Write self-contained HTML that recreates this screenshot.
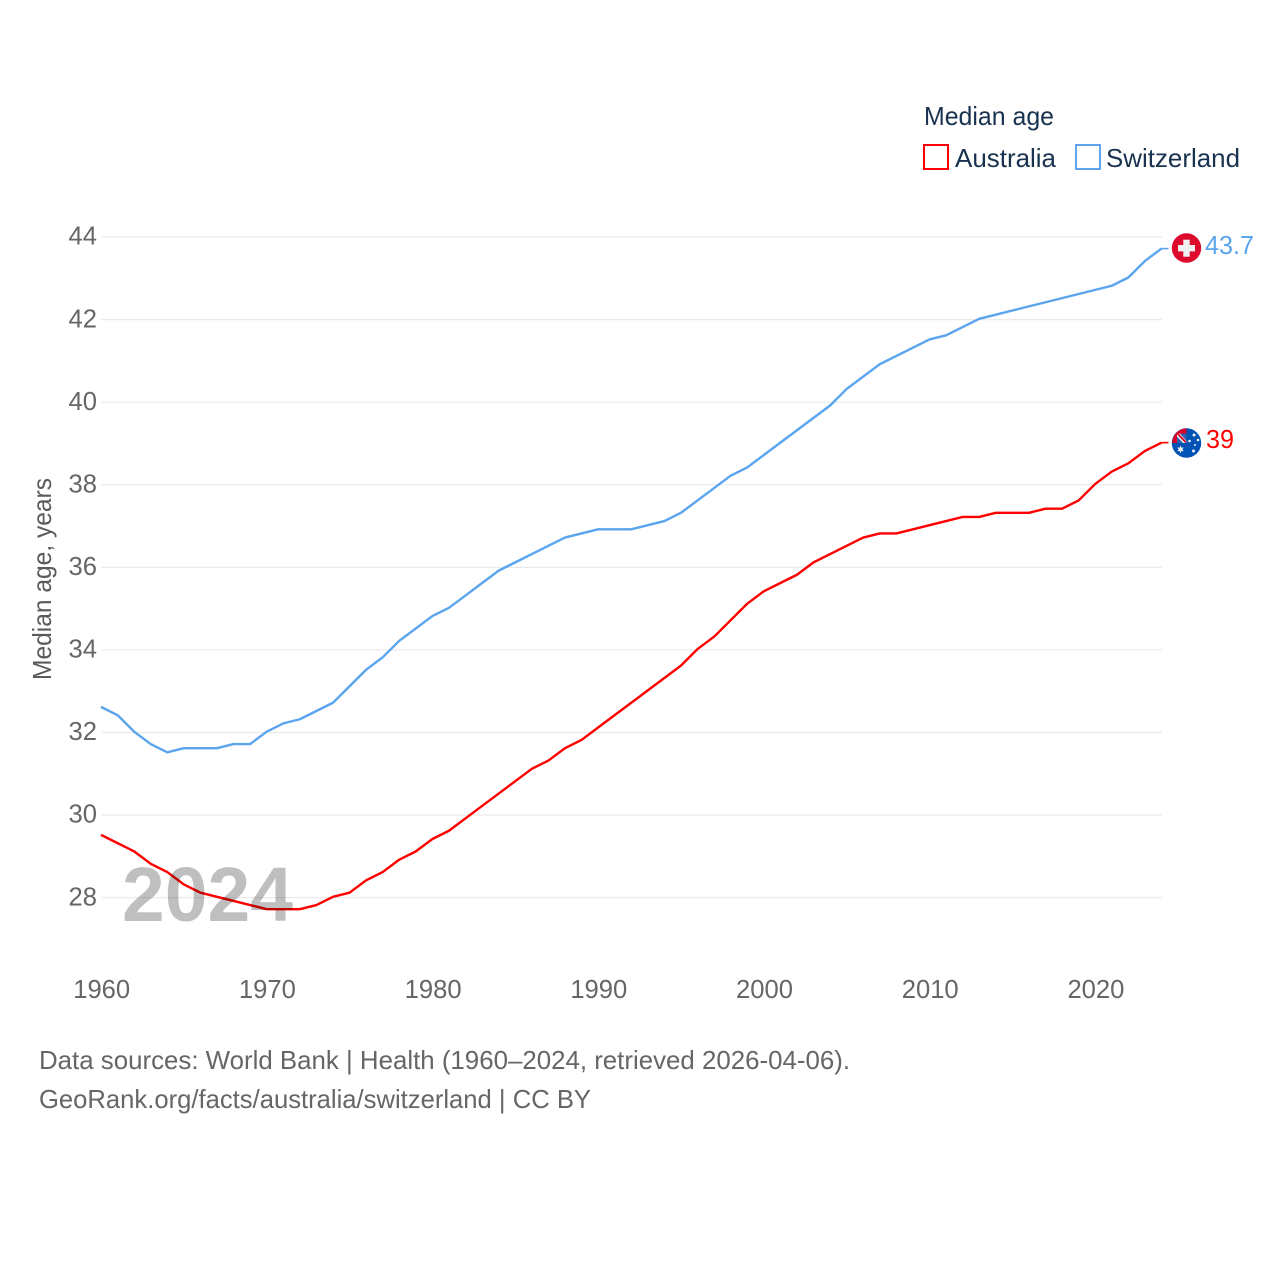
<!DOCTYPE html>
<html lang="en">
<head>
<meta charset="utf-8">
<title>Median age: Australia and Switzerland</title>
<style>
html,body{margin:0;padding:0;background:#fff;}
svg{display:block;font-family:"Liberation Sans",sans-serif;}
</style>
</head>
<body>
<svg id="chart" width="1280" height="1280" viewBox="0 0 1280 1280" xmlns="http://www.w3.org/2000/svg">
  <g id="grid"></g>
  <g id="yticks"></g>
  <g id="xticks"></g>
  <text transform="translate(51,579) rotate(-90)" text-anchor="middle" font-size="25.6" fill="#5b5b5b" textLength="202" lengthAdjust="spacingAndGlyphs">Median age, years</text>
  <g id="series" transform="translate(-0.5,-0.8)"></g>
  <text x="122" y="921" font-size="77" font-weight="bold" fill="#000" fill-opacity="0.25" textLength="171" lengthAdjust="spacingAndGlyphs">2024</text>

  <text x="924" y="125" font-size="26" fill="#18324f" textLength="130" lengthAdjust="spacingAndGlyphs">Median age</text>
  <rect x="924" y="145" width="24" height="24" fill="none" stroke="#ff0000" stroke-width="2"/>
  <text x="955" y="167" font-size="26" fill="#18324f" textLength="101" lengthAdjust="spacingAndGlyphs">Australia</text>
  <rect x="1076" y="145" width="24" height="24" fill="none" stroke="#5ba4ee" stroke-width="2"/>
  <text x="1106" y="167" font-size="26" fill="#18324f" textLength="134" lengthAdjust="spacingAndGlyphs">Switzerland</text>

  <g id="flag-ch">
    <circle cx="1186.5" cy="248" r="14.7" fill="#dc0a2d"/>
    <rect x="1178" y="245" width="17" height="6.4" fill="#f0f0f0"/>
    <rect x="1183.3" y="239.7" width="6.4" height="17" fill="#f0f0f0"/>
  </g>
  <g id="flag-au">
    <circle cx="1186.5" cy="443" r="14.7" fill="#0052b4"/>
    <path d="M1172.2 443 A14.7 14.7 0 0 1 1186.5 428.3 V443 Z" fill="#d80027"/>
    <rect x="1177" y="433.5" width="9.5" height="9.5" fill="#f0f0f0"/>
    <path d="M1180 433.5 H1186.5 V441 Z" fill="#2f5fae"/>
    <path d="M1177 436.5 L1183 443 H1177 Z" fill="#2f5fae"/>
    <path d="M1177.5 433.5 L1186 442.5" stroke="#d80027" stroke-width="1.8" fill="none"/>
    <polygon points="1180.5,445.5 1181.4,447.7 1183.8,447.4 1182.4,449.3 1183.8,451.3 1181.4,451 1180.5,453.2 1179.6,451 1177.2,451.3 1178.6,449.3 1177.2,447.4 1179.6,447.7" fill="#f0f0f0"/>
    <circle cx="1194" cy="435" r="1.5" fill="#f0f0f0"/>
    <circle cx="1189.5" cy="441" r="1.3" fill="#f0f0f0"/>
    <circle cx="1198" cy="440" r="1.3" fill="#f0f0f0"/>
    <circle cx="1195" cy="445" r="1" fill="#f0f0f0"/>
    <circle cx="1193.5" cy="451" r="1.5" fill="#f0f0f0"/>
  </g>
  <text id="end-au" x="1206" y="448" font-size="26" fill="#ff0000" textLength="28" lengthAdjust="spacingAndGlyphs"></text>
  <text id="end-ch" x="1205" y="254" font-size="26" fill="#5ba4ee" textLength="49" lengthAdjust="spacingAndGlyphs"></text>

  <text x="39" y="1069" font-size="26" fill="#666" textLength="811" lengthAdjust="spacingAndGlyphs">Data sources: World Bank | Health (1960–2024, retrieved 2026-04-06).</text>
  <text x="39" y="1108" font-size="26" fill="#666" textLength="552" lengthAdjust="spacingAndGlyphs">GeoRank.org/facts/australia/switzerland | CC BY</text>
</svg>
<script>
const years = [1960,1961,1962,1963,1964,1965,1966,1967,1968,1969,1970,1971,1972,1973,1974,1975,1976,1977,1978,1979,1980,1981,1982,1983,1984,1985,1986,1987,1988,1989,1990,1991,1992,1993,1994,1995,1996,1997,1998,1999,2000,2001,2002,2003,2004,2005,2006,2007,2008,2009,2010,2011,2012,2013,2014,2015,2016,2017,2018,2019,2020,2021,2022,2023,2024];
const australia = [29.5,29.3,29.1,28.8,28.6,28.3,28.1,28.0,27.9,27.8,27.7,27.7,27.7,27.8,28.0,28.1,28.4,28.6,28.9,29.1,29.4,29.6,29.9,30.2,30.5,30.8,31.1,31.3,31.6,31.8,32.1,32.4,32.7,33.0,33.3,33.6,34.0,34.3,34.7,35.1,35.4,35.6,35.8,36.1,36.3,36.5,36.7,36.8,36.8,36.9,37.0,37.1,37.2,37.2,37.3,37.3,37.3,37.4,37.4,37.6,38.0,38.3,38.5,38.8,39.0];
const switzerland = [32.6,32.4,32.0,31.7,31.5,31.6,31.6,31.6,31.7,31.7,32.0,32.2,32.3,32.5,32.7,33.1,33.5,33.8,34.2,34.5,34.8,35.0,35.3,35.6,35.9,36.1,36.3,36.5,36.7,36.8,36.9,36.9,36.9,37.0,37.1,37.3,37.6,37.9,38.2,38.4,38.7,39.0,39.3,39.6,39.9,40.3,40.6,40.9,41.1,41.3,41.5,41.6,41.8,42.0,42.1,42.2,42.3,42.4,42.5,42.6,42.7,42.8,43.0,43.4,43.7];
const yTicks = [28,30,32,34,36,38,40,42,44];
const xTicks = [1960,1970,1980,1990,2000,2010,2020];
const endLabelAustralia = "39";
const endLabelSwitzerland = "43.7";

const NS = "http://www.w3.org/2000/svg";
const plot = { left: 101.5, right: 1162, y28: 897.6, y44: 237 };
function xScale(v) { return plot.left + (v - 1960) * (plot.right - plot.left) / 64; }
function yScale(v) { return plot.y28 + (v - 28) * (plot.y44 - plot.y28) / 16; }

const gridG = document.getElementById("grid");
const yG = document.getElementById("yticks");
const xG = document.getElementById("xticks");
const seriesG = document.getElementById("series");

yTicks.forEach(function (t) {
  const ln = document.createElementNS(NS, "line");
  
  
  ln.setAttribute("x1", plot.left);
  ln.setAttribute("x2", plot.right);
  ln.setAttribute("y1", yScale(t));
  ln.setAttribute("y2", yScale(t));
  ln.setAttribute("stroke", "#ebebeb");
  ln.setAttribute("stroke-width", "1.3");
  gridG.appendChild(ln);

  const tx = document.createElementNS(NS, "text");
  
  
  tx.setAttribute("x", 97);
  tx.setAttribute("y", yScale(t) + 7.7);
  tx.setAttribute("text-anchor", "end");
  tx.setAttribute("font-size", "25.6");
  tx.setAttribute("fill", "#666");
  tx.textContent = t;
  yG.appendChild(tx);
});

xTicks.forEach(function (t) {
  const tx = document.createElementNS(NS, "text");
  
  
  tx.setAttribute("x", xScale(t) + 0.2);
  tx.setAttribute("y", 998);
  tx.setAttribute("text-anchor", "middle");
  tx.setAttribute("font-size", "25.6");
  tx.setAttribute("fill", "#666");
  tx.textContent = t;
  xG.appendChild(tx);
});

function buildPoints(vals) {
  const pts = vals.map(function (v, i) { return xScale(years[i]).toFixed(2) + "," + yScale(v).toFixed(2); });
  return pts.join(" ");
}

const lineCh = document.createElementNS(NS, "polyline");


lineCh.setAttribute("points", buildPoints(switzerland));
lineCh.setAttribute("fill", "none");
lineCh.setAttribute("stroke", "#5ba4ee");
lineCh.setAttribute("stroke-width", "2.4");
lineCh.setAttribute("stroke-linejoin", "round");
seriesG.appendChild(lineCh);

const lineAu = document.createElementNS(NS, "polyline");


lineAu.setAttribute("points", buildPoints(australia));
lineAu.setAttribute("fill", "none");
lineAu.setAttribute("stroke", "#ff0000");
lineAu.setAttribute("stroke-width", "2.4");
lineAu.setAttribute("stroke-linejoin", "round");
seriesG.appendChild(lineAu);

const connCh = document.createElementNS(NS, "line");


connCh.setAttribute("x1", plot.right);
connCh.setAttribute("x2", 1169);
connCh.setAttribute("y1", yScale(switzerland[switzerland.length - 1]));
connCh.setAttribute("y2", yScale(switzerland[switzerland.length - 1]));
connCh.setAttribute("stroke", "#5ba4ee");
connCh.setAttribute("stroke-width", "1.6");
seriesG.appendChild(connCh);

const connAu = document.createElementNS(NS, "line");


connAu.setAttribute("x1", plot.right);
connAu.setAttribute("x2", 1169);
connAu.setAttribute("y1", yScale(australia[australia.length - 1]));
connAu.setAttribute("y2", yScale(australia[australia.length - 1]));
connAu.setAttribute("stroke", "#ff0000");
connAu.setAttribute("stroke-width", "1.6");
seriesG.appendChild(connAu);

document.getElementById("end-au").textContent = endLabelAustralia;
document.getElementById("end-ch").textContent = endLabelSwitzerland;
</script>
</body>
</html>
